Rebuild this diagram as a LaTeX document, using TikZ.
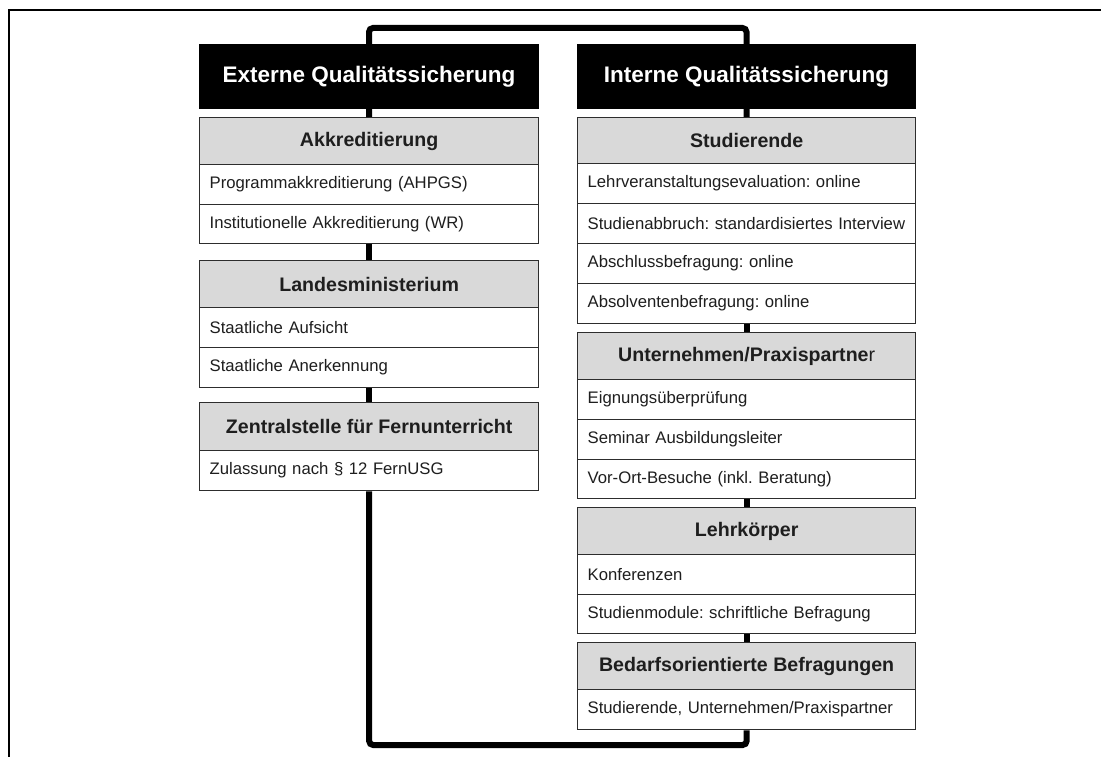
\documentclass[tikz,border=0pt]{standalone}
\usepackage{fontspec}
\setmainfont{Liberation Sans}
\definecolor{boxgray}{RGB}{217,217,217}
\definecolor{edgec}{RGB}{45,45,45}
\definecolor{txt}{RGB}{30,30,30}
\begin{document}
\frenchspacing
\begin{tikzpicture}[x=1pt,y=-1pt,
  hdr/.style={fill=black, text=white, draw=black, line width=1pt,
    font=\fontsize{22.5}{26}\selectfont\bfseries, minimum height=64pt,
    inner sep=0pt, anchor=north west},
  grp/.style={fill=boxgray, draw=edgec, line width=1.3pt, text=txt,
    font=\fontsize{19.6}{23}\selectfont\bfseries,
    inner sep=0pt, anchor=north west},
  item/.style={fill=white, draw=edgec, line width=1.3pt, text=txt,
    font=\fontsize{16.7}{20}\selectfont\frenchspacing, align=left,
    inner xsep=10pt, inner ysep=0pt, anchor=north west},
  lw/.style={minimum width=339pt},
  rw/.style={minimum width=338pt},
  litem/.style={item, text width=319pt},
  ritem/.style={item, text width=318pt},
  conn/.style={line width=6pt, draw=black},
  frame/.style={line width=2pt, draw=black}]
\useasboundingbox (0,0) rectangle (1101,757);
\draw[frame] (9,757) -- (9,10) -- (1101,10);

% left column
\node[hdr, lw] (ext) at (199,44) {Externe Qualitätssicherung};
\node[grp, lw, minimum height=47pt] (akk) at (199,117) {Akkreditierung};
\node[litem, minimum height=40pt] (akk1) at (199,164) {\mbox{Programmakkreditierung (AHPGS)}};
\node[litem, minimum height=39pt] (akk2) at (199,204) {\mbox{Institutionelle Akkreditierung (WR)}};
\node[grp, lw, minimum height=47pt] (lan) at (199,260) {Landesministerium};
\node[litem, minimum height=40pt] (lan1) at (199,307) {\mbox{Staatliche Aufsicht}};
\node[litem, minimum height=40pt] (lan2) at (199,347) {\mbox{Staatliche Anerkennung}};
\node[grp, lw, minimum height=48pt] (zen) at (199,402) {Zentralstelle für Fernunterricht};
\node[litem, minimum height=40pt] (zen1) at (199,450) {\mbox{Zulassung nach § 12 FernUSG}};

% right column
\node[hdr, rw] (int) at (577,44) {Interne Qualitätssicherung};
\node[grp, rw, minimum height=46pt] (stu) at (577,117) {Studierende};
\node[ritem, minimum height=40pt] (stu1) at (577,163) {\mbox{Lehrveranstaltungsevaluation: online}};
\node[ritem, minimum height=40pt] (stu2) at (577,203) {\mbox{Studienabbruch: standardisiertes Interview}};
\node[ritem, minimum height=40pt] (stu3) at (577,243) {\mbox{Abschlussbefragung: online}};
\node[ritem, minimum height=40pt] (stu4) at (577,283) {\mbox{Absolventenbefragung: online}};
\node[grp, rw, minimum height=47pt] (unt) at (577,332) {Unternehmen/Praxispartne{\mdseries r}};
\node[ritem, minimum height=40pt] (unt1) at (577,379) {\mbox{Eignungsüberprüfung}};
\node[ritem, minimum height=40pt] (unt2) at (577,419) {\mbox{Seminar Ausbildungsleiter}};
\node[ritem, minimum height=39pt] (unt3) at (577,459) {\mbox{Vor-Ort-Besuche (inkl. Beratung)}};
\node[grp, rw, minimum height=47pt] (leh) at (577,507) {Lehrkörper};
\node[ritem, minimum height=40pt] (leh1) at (577,554) {\mbox{Konferenzen}};
\node[ritem, minimum height=39pt] (leh2) at (577,594) {\mbox{Studienmodule: schriftliche Befragung}};
\node[grp, rw, minimum height=47pt] (bed) at (577,642) {Bedarfsorientierte Befragungen};
\node[ritem, minimum height=40pt] (bed1) at (577,689) {\mbox{Studierende, Unternehmen/Praxispartner}};

% connectors
\coordinate (topy) at (0,28);
\coordinate (boty) at (0,745);
\draw[conn, rounded corners=4pt] (ext.north) -- (ext.north |- topy) -| (int.north);
\draw[conn] (ext.south) -- (akk.north);
\draw[conn] (akk2.south) -- (lan.north);
\draw[conn] (lan2.south) -- (zen.north);
\draw[conn] (int.south) -- (stu.north);
\draw[conn] (stu4.south) -- (unt.north);
\draw[conn] (unt3.south) -- (leh.north);
\draw[conn] (leh2.south) -- (bed.north);
\draw[conn, rounded corners=4pt] (zen1.south) -- (zen1.south |- boty) -| (bed1.south);
\end{tikzpicture}
\end{document}
